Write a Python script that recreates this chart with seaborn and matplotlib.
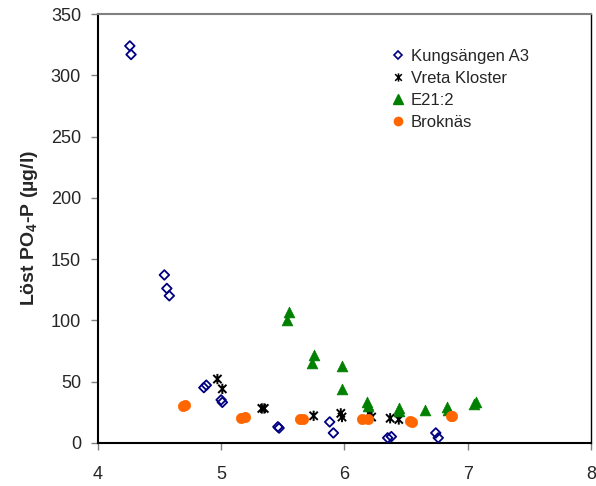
import matplotlib
matplotlib.use("Agg")
import matplotlib.pyplot as plt
import seaborn as sns
import pandas as pd
import numpy as np
from matplotlib.path import Path
from matplotlib.lines import Line2D

# ---- data ----
kung_x = [4.26, 4.27, 4.54, 4.56, 4.58, 4.86, 4.88, 5.00, 5.01, 5.46, 5.47, 5.88, 5.91, 6.35, 6.38, 6.74, 6.76]
kung_y = [324, 317, 137, 126, 120, 45, 47, 35, 33, 13, 12, 17, 8, 4, 5, 8, 4]

vreta_x = [4.97, 5.01, 5.33, 5.35, 5.75, 5.97, 5.98, 6.20, 6.22, 6.37, 6.44]
vreta_y = [52, 44, 28, 28, 22, 24, 21, 24, 21, 20, 19]

e21_x = [5.53, 5.55, 5.74, 5.75, 5.98, 5.98, 6.18, 6.19, 6.44, 6.44, 6.65, 6.83, 6.84, 7.05, 7.07]
e21_y = [100, 107, 65, 72, 63, 44, 33, 30, 28, 26, 27, 29, 27, 32, 33]

brok_x = [4.69, 4.71, 5.16, 5.19, 5.64, 5.66, 6.14, 6.19, 6.53, 6.55, 6.86, 6.87]
brok_y = [30, 31, 20, 21, 19, 19, 19, 19, 18, 17, 22, 22]

series_names = ["Kungsängen A3", "Vreta Kloster", "E21:2", "Broknäs"]
x_ticks = [4, 5, 6, 7, 8]
y_ticks = [0, 50, 100, 150, 200, 250, 300, 350]

# ---- style ----
sns.set_style("white")
plt.rcParams["font.family"] = ["Liberation Sans", "DejaVu Sans"]
plt.rcParams["mathtext.fontset"] = "custom"
plt.rcParams["mathtext.rm"] = "Liberation Sans"
plt.rcParams["mathtext.bf"] = "Liberation Sans:bold"

star = Path([(-1, -1), (1, 1), (-1, 1), (1, -1), (0, -1.25), (0, 1.25)],
            [Path.MOVETO, Path.LINETO, Path.MOVETO, Path.LINETO, Path.MOVETO, Path.LINETO])

navy = "#000080"
green = "#008000"
orange = "#FF6600"

fig = plt.figure(figsize=(5.96, 4.86), dpi=100)
ax = fig.add_axes([0.164, 0.089, 0.828, 0.882])

df_k = pd.DataFrame({"x": kung_x, "y": kung_y})
df_v = pd.DataFrame({"x": vreta_x, "y": vreta_y})
df_e = pd.DataFrame({"x": e21_x, "y": e21_y})
df_b = pd.DataFrame({"x": brok_x, "y": brok_y})

sns.scatterplot(data=df_k, x="x", y="y", ax=ax, marker="D", s=24,
                facecolors="none", edgecolor=navy, linewidth=1.3, zorder=3)
sns.scatterplot(data=df_v, x="x", y="y", ax=ax, marker=star, s=55,
                facecolors="none", edgecolor="black", color="black", linewidth=1.4, zorder=3)
sns.scatterplot(data=df_e, x="x", y="y", ax=ax, marker="^", s=60,
                color=green, edgecolor=green, linewidth=0.5, zorder=3)
sns.scatterplot(data=df_b, x="x", y="y", ax=ax, marker="o", s=55,
                color=orange, edgecolor=orange, linewidth=0.5, zorder=3)

ax.set_xlim(4, 8)
ax.set_ylim(0, 350)
ax.set_xticks(x_ticks)
ax.set_yticks(y_ticks)
ax.tick_params(axis="both", labelsize=13, direction="out", length=5, width=1,
               color="#808080", left=True, bottom=True)
ax.tick_params(axis="x", pad=12)
ax.tick_params(axis="y", pad=7)
ax.set_xlabel("")
ax.set_ylabel(r"Löst PO$_{\mathbf{4}}$-P (µg/l)", fontsize=14, fontweight="bold", labelpad=8)

for side in ["left", "bottom", "right"]:
    ax.spines[side].set_color("black")
    ax.spines[side].set_linewidth(1.5)
ax.spines["right"].set_linewidth(1.0)
ax.spines["top"].set_color("#808080")
ax.spines["top"].set_linewidth(1.5)

handles = [
    Line2D([], [], marker="D", linestyle="none", markersize=4.5, markerfacecolor="none",
           markeredgecolor=navy, markeredgewidth=1.2),
    Line2D([], [], marker=star, linestyle="none", markersize=6, markerfacecolor="none",
           markeredgecolor="black", markeredgewidth=1.1),
    Line2D([], [], marker="^", linestyle="none", markersize=6.5, color=green),
    Line2D([], [], marker="o", linestyle="none", markersize=6, color=orange),
]
fig.legend(handles, series_names, loc="upper left", bbox_to_anchor=(0.66, 0.90),
           frameon=False, fontsize=12, handlelength=0.6, handletextpad=0.45,
           labelspacing=0.42, borderaxespad=0, borderpad=0)

fig.savefig("out.png", dpi=100)
